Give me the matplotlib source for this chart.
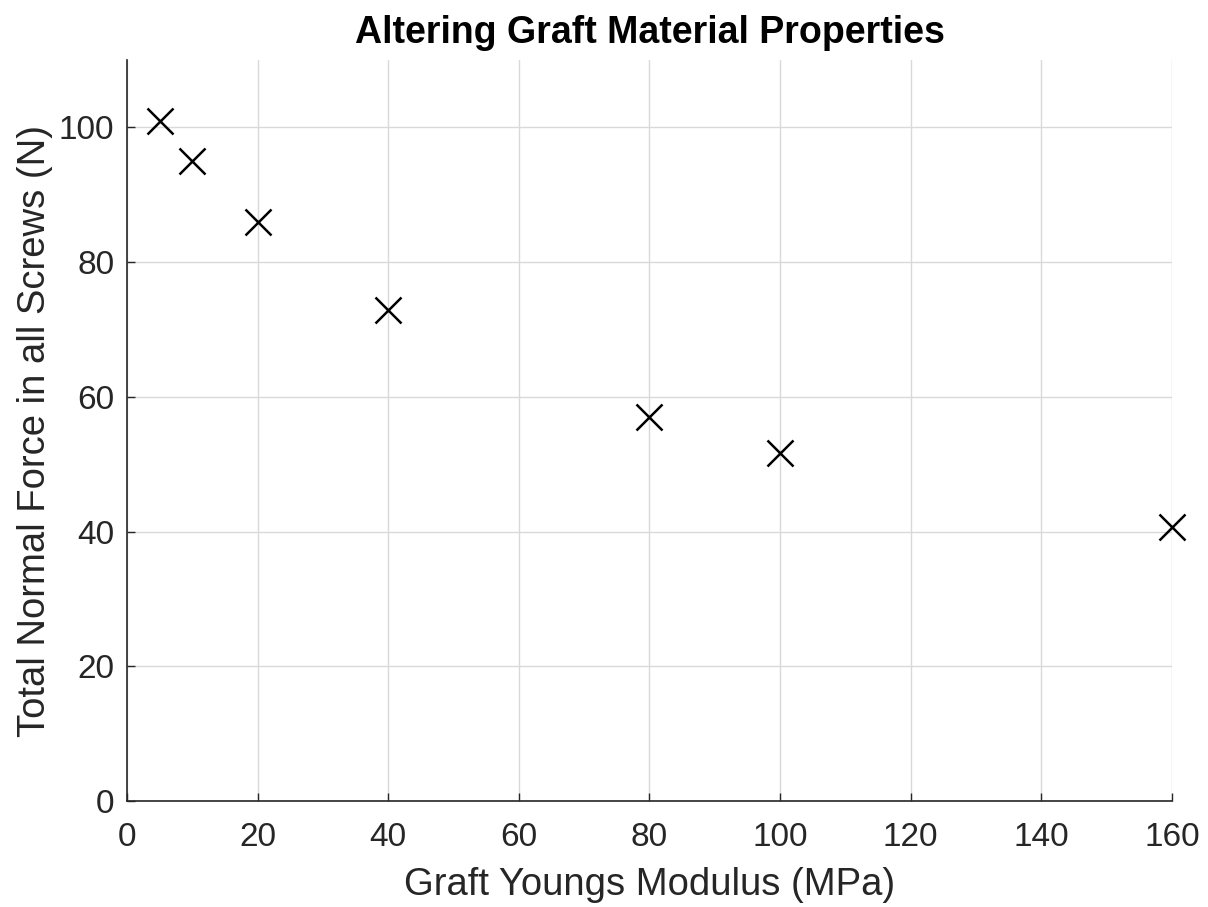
import matplotlib
matplotlib.use('Agg')
import matplotlib.pyplot as plt

# Graft Young's modulus (MPa) vs total normal force in screws (N)
modulus = [5, 10, 20, 40, 80, 100, 160]
force = [101.0, 95.0, 85.9, 72.9, 57.0, 51.6, 40.7]

plt.rcParams['font.family'] = ['Liberation Sans', 'DejaVu Sans']
dark = '#262626'

fig = plt.figure(figsize=(12.08, 9.07), dpi=100)
ax = fig.add_axes([0.1051, 0.1169, 0.8651, 0.8169])

ax.plot(modulus, force, linestyle='none', marker='x', markersize=19,
        markeredgewidth=1.8, color='black', clip_on=False, zorder=3)

ax.set_xlim(0, 160)
ax.set_ylim(0, 110)
ax.set_xticks(range(0, 161, 20))
ax.set_yticks(range(0, 101, 20))

ax.grid(True, color='#d9d9d9', linewidth=1.0)
ax.set_axisbelow(True)

for side in ('top', 'right'):
    ax.spines[side].set_visible(False)
for side in ('left', 'bottom'):
    ax.spines[side].set_color(dark)
    ax.spines[side].set_linewidth(1.2)

ax.tick_params(direction='in', length=6, width=1, colors=dark,
               labelsize=24, pad=9)
ax.tick_params(axis='x', pad=15)

ax.set_xlabel('Graft Youngs Modulus (MPa)', fontsize=27.5, color=dark, labelpad=10)
ax.set_ylabel('Total Normal Force in all Screws (N)', fontsize=27.5, color=dark, labelpad=4)
ax.set_title('Altering Graft Material Properties', fontsize=27,
             fontweight='bold', color='black', pad=12)

fig.savefig('out.png', dpi=100)
